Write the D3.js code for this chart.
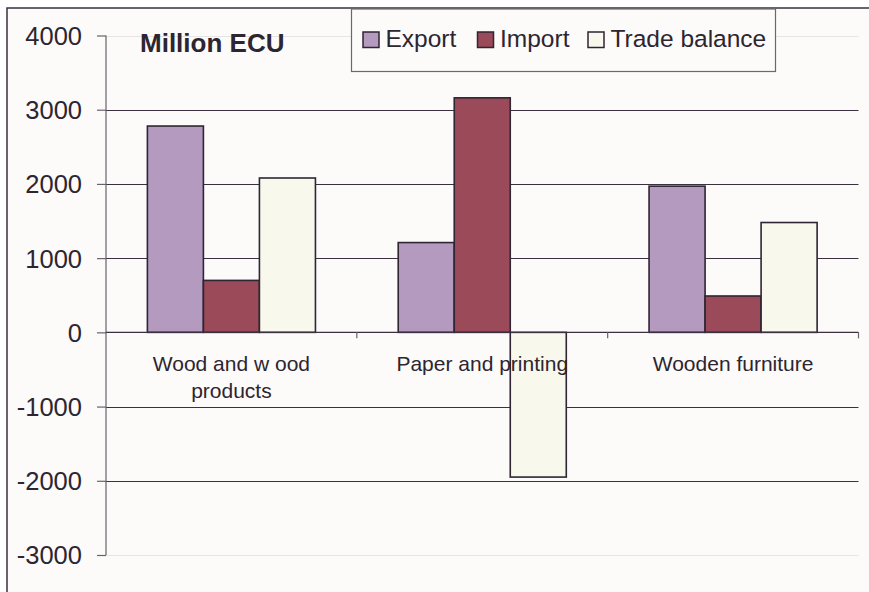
<!DOCTYPE html>
<html>
<head>
<meta charset="utf-8">
<script src="https://cdn.jsdelivr.net/npm/d3@7"></script>
<style>
  html, body { margin: 0; padding: 0; background: #ffffff; overflow: hidden; }
  svg { display: block; }
  text { font-family: "Liberation Sans", Arial, sans-serif; fill: #2d2530; }
</style>
</head>
<body>
<svg id="chart" width="869" height="592"></svg>
<script>
// ---- data ----
const categories = ["Wood and w ood|products", "Paper and printing", "Wooden furniture"];
const seriesNames = ["Export", "Import", "Trade balance"];
const exportValues = [2780, 1210, 1970];
const importValues = [700, 3160, 490];
const balanceValues = [2080, -1950, 1480];
const yTicks = [4000, 3000, 2000, 1000, 0, -1000, -2000, -3000];
const titleText = "Million ECU";

const seriesValues = [exportValues, importValues, balanceValues];
const colors = ["#b39abe", "#9a4a58", "#f8f9ec"];

const svg = d3.select("#chart");
const W = 869, H = 592;

// chart area background + border (left/top visible, rest clipped)
svg.append("rect").attr("x", 7).attr("y", 8).attr("width", W + 60).attr("height", H + 60)
  .attr("fill", "#fcfbfa").attr("stroke", "#3a3040").attr("stroke-width", 1.5);

const plot = { left: 106, right: 858.5 };
const y = d3.scaleLinear().domain([-3000, 4000]).range([555, 35.5]);
const x0 = d3.scaleBand().domain(categories).range([plot.left, plot.right]).padding(0);
const bw = x0.bandwidth();
const x1 = d3.scaleBand().domain(seriesNames).range([bw * 0.165, bw * 0.835]).padding(0);

// gridlines
svg.append("g").selectAll("line").data(yTicks).join("line")
  .attr("x1", plot.left).attr("x2", plot.right)
  .attr("y1", d => Math.round(y(d)) + 0.5).attr("y2", d => Math.round(y(d)) + 0.5)
  .attr("stroke", d => (d === 4000 || d === -3000) ? "#e6e4e4" : "#3a3040")
  .attr("stroke-width", d => (d === 4000 || d === -3000) ? 1.2 : 1.1);

// y axis
const yAxis = d3.axisLeft(y).tickValues(yTicks).tickSize(9).tickPadding(15).tickFormat(d => String(d));
const gy = svg.append("g").attr("transform", `translate(${plot.left},0)`).call(yAxis);
gy.select(".domain").attr("stroke", "#6a6070").attr("stroke-width", 1.2)
  .attr("d", `M-0,${y(4000)}H0V${y(-3000)}H-0`);
gy.selectAll(".tick line").attr("stroke", "#6a6070").attr("stroke-width", 1.2);
gy.selectAll(".tick text").style("font-size", "25.5px").attr("fill", "#2d2530")
  .attr("font-family", "Liberation Sans, Arial, sans-serif").attr("dy", "0.35em");

// bars
const groups = svg.append("g").selectAll("g").data(categories).join("g")
  .attr("transform", d => `translate(${x0(d)},0)`);
groups.selectAll("rect")
  .data((d, i) => seriesNames.map((s, j) => ({ s, v: seriesValues[j][i], c: colors[j] })))
  .join("rect")
  .attr("x", d => x1(d.s))
  .attr("width", x1.bandwidth())
  .attr("y", d => y(Math.max(0, d.v)))
  .attr("height", d => Math.abs(y(d.v) - y(0)))
  .attr("fill", d => d.c)
  .attr("stroke", "#2f2533").attr("stroke-width", 1.6);

// zero axis with category ticks
const gx = svg.append("g").attr("transform", `translate(0,${y(0)})`);
gx.append("line").attr("x1", plot.left).attr("x2", plot.right).attr("y1", 0).attr("y2", 0)
  .attr("stroke", "#3a3040").attr("stroke-width", 1.3);
gx.selectAll("line.ct").data(categories).join("line").attr("class", "ct")
  .attr("x1", d => x0(d) + bw).attr("x2", d => x0(d) + bw)
  .attr("y1", 0).attr("y2", 6).attr("stroke", "#6a6070").attr("stroke-width", 1.2);

// category labels
const labels = svg.append("g").selectAll("text").data(categories).join("text")
  .attr("x", d => x0(d) + bw / 2).attr("y", 371)
  .attr("text-anchor", "middle").style("font-size", "21px");
labels.each(function (d) {
  const parts = d.split("|");
  d3.select(this).selectAll("tspan").data(parts).join("tspan")
    .attr("x", x0(d) + bw / 2).attr("dy", (p, i) => i === 0 ? 0 : 27).text(p => p);
});

// title
svg.append("text").attr("x", 140).attr("y", 52)
  .style("font-size", "26px").style("font-weight", "bold").text(titleText);

// legend
const lg = svg.append("g");
lg.append("rect").attr("x", 351.5).attr("y", 9).attr("width", 424).attr("height", 62.5)
  .attr("fill", "#fcfbfa").attr("stroke", "#6a6a6a").attr("stroke-width", 1.2);
const legendX = [363, 477.5, 588];
const li = lg.selectAll("g").data(seriesNames).join("g")
  .attr("transform", (d, i) => `translate(${legendX[i]},0)`);
li.append("rect").attr("x", 0).attr("y", 32).attr("width", 16).attr("height", 15.5)
  .attr("fill", (d, i) => colors[i]).attr("stroke", "#2f2533").attr("stroke-width", 1.5);
li.append("text").attr("x", 22.5).attr("y", 47).style("font-size", "24.5px").text(d => d);
</script>
</body>
</html>
